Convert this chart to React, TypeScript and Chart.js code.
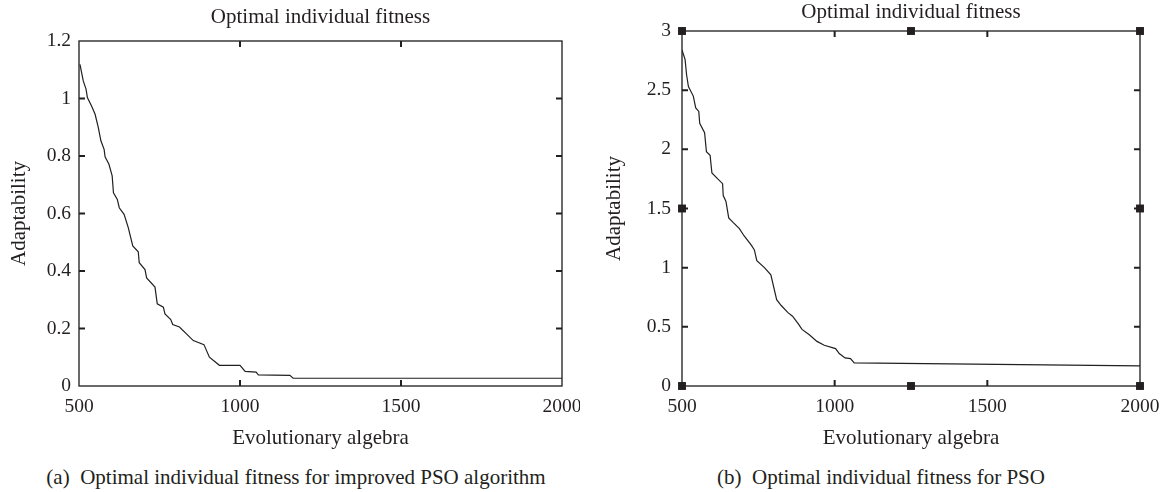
import React, { useEffect, useRef } from "react";
import { Chart, registerables } from "chart.js";

Chart.register(...registerables);

const FONT = "'Liberation Serif', 'Times New Roman', serif";
const INK = "#231f20";

// ---- Data ----
const improvedX = [503, 513, 522, 526, 539, 550, 560, 568, 578, 581, 593, 603, 607, 619, 625, 640, 653, 667, 684, 687, 705, 710, 736, 743, 762, 767, 785, 791, 812, 855, 888, 905, 936, 1000, 1016, 1050, 1057, 1155, 1165, 2000];
const improvedY = [1.119, 1.062, 1.032, 1.003, 0.974, 0.945, 0.899, 0.853, 0.823, 0.797, 0.771, 0.731, 0.672, 0.649, 0.62, 0.597, 0.551, 0.487, 0.467, 0.429, 0.405, 0.376, 0.344, 0.286, 0.274, 0.251, 0.231, 0.214, 0.205, 0.158, 0.144, 0.1, 0.072, 0.072, 0.051, 0.048, 0.039, 0.037, 0.027, 0.027];

const psoX = [500, 510, 515, 521, 537, 545, 555, 558, 574, 580, 592, 598, 617, 633, 635, 644, 653, 668, 688, 703, 727, 737, 745, 770, 791, 810, 825, 847, 862, 881, 893, 917, 942, 966, 1003, 1015, 1034, 1052, 1064, 2000];
const psoY = [2.84, 2.76, 2.63, 2.53, 2.45, 2.35, 2.32, 2.22, 2.14, 1.98, 1.95, 1.8, 1.75, 1.71, 1.61, 1.56, 1.42, 1.38, 1.33, 1.27, 1.19, 1.15, 1.06, 1.0, 0.94, 0.73, 0.68, 0.62, 0.59, 0.525, 0.478, 0.433, 0.377, 0.344, 0.316, 0.274, 0.237, 0.232, 0.196, 0.17];

// square handles around the PSO figure
const psoHandleX = [500, 1250, 2000, 500, 2000, 500, 1250, 2000];
const psoHandleY = [3, 3, 3, 1.5, 1.5, 0, 0, 0];

const xTicks = [500, 1000, 1500, 2000];
const improvedYTicks = [0, 0.2, 0.4, 0.6, 0.8, 1, 1.2];
const psoYTicks = [0, 0.5, 1, 1.5, 2, 2.5, 3];

const chartTitle = "Optimal individual fitness";
const xTitle = "Evolutionary algebra";
const yTitle = "Adaptability";
const captionA = "(a)  Optimal individual fitness for improved PSO algorithm";
const captionB = "(b)  Optimal individual fitness for PSO";

const toPoints = (xs: number[], ys: number[]) => xs.map((x, i) => ({ x, y: ys[i] }));

const framePlugin = {
  id: "frame",
  beforeDatasetsDraw(chart: any) {
    const { ctx, chartArea: a, scales } = chart;
    const xs = scales.x;
    const ys = scales.y;
    ctx.save();
    ctx.strokeStyle = "#2b2b2b";
    ctx.lineWidth = 1.4;
    ctx.strokeRect(a.left, a.top, a.right - a.left, a.bottom - a.top);
    ctx.strokeStyle = INK;
    ctx.lineWidth = 2;
    const L = 6;
    ctx.beginPath();
    xs.ticks.forEach((t: any) => {
      if (t.value <= xs.min || t.value >= xs.max) return;
      const p = xs.getPixelForValue(t.value);
      ctx.moveTo(p, a.bottom);
      ctx.lineTo(p, a.bottom - L);
      ctx.moveTo(p, a.top);
      ctx.lineTo(p, a.top + L);
    });
    ys.ticks.forEach((t: any) => {
      if (t.value <= ys.min || t.value >= ys.max) return;
      const p = ys.getPixelForValue(t.value);
      ctx.moveTo(a.left, p);
      ctx.lineTo(a.left + L, p);
      ctx.moveTo(a.right, p);
      ctx.lineTo(a.right - L, p);
    });
    ctx.stroke();
    ctx.restore();
  },
};

type PanelSpec = {
  xs: number[];
  ys: number[];
  yTicks: number[];
  yMax: number;
  handles?: { x: number; y: number }[];
  yWidth: number;
  rightPad: number;
  xHeight: number;
  yLabelPad: number;
  yTitlePad: number;
  titlePadTop: number;
  titlePadBottom: number;
};

const fmt = (v: number) => String(Math.round(v * 100) / 100);

function buildConfig(p: PanelSpec): any {
  const datasets: any[] = [
    {
      data: toPoints(p.xs, p.ys),
      showLine: true,
      borderColor: INK,
      borderWidth: 1.2,
      pointRadius: 0,
      tension: 0,
      fill: false,
    },
  ];
  if (p.handles) {
    datasets.push({
      data: p.handles,
      showLine: false,
      pointStyle: "rect",
      pointRadius: 5.6,
      backgroundColor: INK,
      borderWidth: 0,
      clip: false,
    });
  }
  return {
    type: "scatter",
    data: { datasets },
    plugins: [framePlugin],
    options: {
      animation: false,
      responsive: false,
      maintainAspectRatio: false,
      layout: { padding: 0 },
      plugins: {
        legend: { display: false },
        tooltip: { enabled: false },
        title: {
          display: true,
          text: chartTitle,
          color: INK,
          fullSize: false,
          font: { family: FONT, size: 21, weight: "normal" },
          padding: { top: p.titlePadTop, bottom: p.titlePadBottom },
        },
      },
      scales: {
        x: {
          type: "linear",
          min: 500,
          max: 2000,
          afterBuildTicks: (s: any) => {
            s.ticks = xTicks.map((v) => ({ value: v }));
          },
          afterFit: (s: any) => {
            s.height = p.xHeight;
            s.paddingLeft = 0;
            s.paddingRight = p.rightPad;
          },
          grid: { display: false, drawTicks: false },
          border: { display: false },
          ticks: {
            color: INK,
            padding: 9,
            maxRotation: 0,
            autoSkip: false,
            font: { family: FONT, size: 19.5 },
            callback: (v: any) => String(v),
          },
          title: {
            display: true,
            text: xTitle,
            color: INK,
            font: { family: FONT, size: 21 },
            padding: { top: 0, bottom: 1 },
          },
        },
        y: {
          type: "linear",
          min: 0,
          max: p.yMax,
          afterBuildTicks: (s: any) => {
            s.ticks = p.yTicks.map((v) => ({ value: v }));
          },
          afterFit: (s: any) => {
            s.width = p.yWidth;
            s.paddingTop = 0;
            s.paddingBottom = 0;
          },
          grid: { display: false, drawTicks: false },
          border: { display: false },
          ticks: {
            color: INK,
            padding: p.yLabelPad,
            autoSkip: false,
            font: { family: FONT, size: 19.5 },
            callback: (v: any) => fmt(Number(v)),
          },
          title: {
            display: true,
            text: yTitle,
            color: INK,
            font: { family: FONT, size: 21 },
            padding: { top: p.yTitlePad, bottom: 0 },
          },
        },
      },
    },
  };
}

function Panel({ spec, left, width, height }: { spec: PanelSpec; left: number; width: number; height: number }) {
  const ref = useRef<HTMLCanvasElement | null>(null);
  useEffect(() => {
    if (!ref.current) return;
    const chart = new Chart(ref.current, buildConfig(spec));
    return () => chart.destroy();
  }, []);
  return (
    <canvas
      ref={ref}
      width={width}
      height={height}
      style={{ position: "absolute", left, top: 0, width, height }}
    />
  );
}

const CH = 452;

const specA: PanelSpec = {
  xs: improvedX,
  ys: improvedY,
  yTicks: improvedYTicks,
  yMax: 1.2,
  yWidth: 79,
  rightPad: 18,
  xHeight: CH - 386,
  yLabelPad: 8,
  yTitlePad: 7,
  titlePadTop: 5,
  titlePadBottom: 41 - 5 - 25.2,
};

const specB: PanelSpec = {
  xs: psoX,
  ys: psoY,
  yTicks: psoYTicks,
  yMax: 3,
  handles: toPoints(psoHandleX, psoHandleY),
  yWidth: 102,
  rightPad: 25,
  xHeight: CH - 386,
  yLabelPad: 11,
  yTitlePad: 22,
  titlePadTop: 0,
  titlePadBottom: 31 - 25.2,
};

const captionStyle = (cx: number): React.CSSProperties => ({
  position: "absolute",
  left: cx,
  top: 464,
  transform: "translateX(-50%)",
  fontFamily: FONT,
  fontSize: 21,
  lineHeight: "26px",
  color: INK,
  whiteSpace: "pre",
});

export default function App() {
  return (
    <div style={{ position: "absolute", left: 0, top: 0, width: 1165, height: 492, background: "#fff", overflow: "hidden" }}>
      <Panel spec={specA} left={0} width={580} height={CH} />
      <Panel spec={specB} left={580} width={585} height={CH} />
      <div style={captionStyle(296)}>{captionA}</div>
      <div style={captionStyle(881)}>{captionB}</div>
    </div>
  );
}
